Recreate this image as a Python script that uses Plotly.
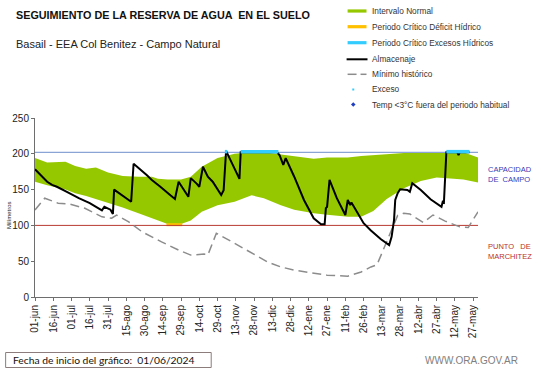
import plotly.graph_objects as go

# ---------------- data ----------------
tick_days = [0, 15, 30, 45, 60, 75, 90, 105, 120, 135, 150, 165, 180, 195,
             210, 225, 240, 255, 270, 285, 300, 315, 330, 345, 360]
tick_labels = ["01-jun", "16-jun", "01-jul", "16-jul", "31-jul", "15-ago", "30-ago",
               "14-sep", "29-sep", "14-oct", "29-oct", "13-nov", "28-nov", "13-dic",
               "28-dic", "12-ene", "27-ene", "11-feb", "26-feb", "13-mar", "28-mar",
               "12-abr", "27-abr", "12-may", "27-may"]

band_days = [0, 10, 25, 33, 42, 50, 60, 72, 85, 96, 101, 109, 120, 128, 137, 150, 164,
             178, 188, 202, 213, 229, 240, 257, 268, 278, 289, 303, 317, 330, 344, 352, 364]
band_upper = [194, 188, 189, 183, 179, 181, 174, 169, 168, 168, 165, 164, 164, 168, 182,
              194, 200, 202, 202, 199, 196, 193, 195, 195, 197, 198, 199, 201, 201, 202,
              202, 202, 195]
band_lower = [161, 156, 150, 145, 141, 137, 131, 125, 117, 110, 106, 102, 102, 107, 119,
              128, 133, 142, 138, 128, 122, 117, 115, 112, 112, 120, 137, 152, 162, 167,
              165, 164, 160]

deficit_days = [108, 121]
deficit_vals = [101, 101]

alm_days = [0, 4, 10, 14, 18, 25, 36, 45, 55, 57, 62, 64, 65, 79, 81, 92, 96, 103, 108,
            111, 115, 118, 126, 128, 133, 135, 138, 142, 146, 153, 155, 157, 168, 169,
            199, 201, 204, 206, 213, 221, 229, 235, 238, 239, 240, 242, 248, 255, 257,
            259, 260, 262, 270, 276, 284, 291, 293, 295, 296, 298, 300, 306, 308, 310,
            317, 325, 334, 335, 336, 338, 347, 348, 349, 357]
alm_vals = [178.5, 171, 161, 156.5, 154, 148, 138, 131, 121, 126, 122, 116, 150, 133, 186,
            170, 163.5, 154, 146, 142.5, 137, 161, 140, 166, 158, 154, 182, 168, 161,
            142.5, 149, 204, 165, 202, 202, 198, 184.5, 194, 168, 135.5, 110, 101.5,
            101.5, 124, 126, 163.5, 138, 114.5, 135.5, 128.5, 132, 126, 103, 93, 81,
            72.5, 84, 107.5, 135.5, 145, 150.5, 149.5, 147, 159, 149.5, 136.5, 126, 133,
            132, 202, 202, 198, 202, 202]

min_days = [0, 8, 19, 28, 41, 55, 63, 67, 77, 88, 104, 118, 128, 139, 142, 149, 164, 178,
            191, 202, 213, 240, 257, 268, 276, 281, 289, 298, 303, 308, 319, 327, 337,
            349, 356, 364]
min_vals = [121.5, 138, 131, 130, 124, 112, 110, 114.5, 105, 91, 77, 65.5, 58.5, 60, 58.5,
            89, 75, 61, 49, 42, 37.5, 30.5, 29, 35, 42, 45, 78, 114, 117, 116, 104, 114.5,
            106, 98, 97, 119]

exceso_days = [156, 158, None, 169, 200, None, 338, 357]
exceso_vals = [203, 203, None, 203, 203, None, 203, 203]

capacidad_campo = 202
punto_marchitez = 100
x_end = 364

# ---------------- layout helpers ----------------
W, H = 541, 368
ML, MR, MT, MB = 33, 63, 118, 71
PW, PH = W - ML - MR, H - MT - MB
FONT = "Liberation Sans, Arial, sans-serif"


def fx(p):
    return (p - ML) / PW


def fy(p):
    return (H - MB - p) / PH


GREEN = "#96C800"
ORANGE = "#FFC000"
CYAN = "#33CCFF"
BLUE_LINE = "#8AA4D6"
RED_LINE = "#B83A32"
GRAY = "#8C8C8C"

fig = go.Figure()

fig.add_trace(go.Scatter(x=band_days, y=band_lower, mode="lines",
                         line=dict(width=0, color=GREEN), hoverinfo="skip",
                         showlegend=False))
fig.add_trace(go.Scatter(x=band_days, y=band_upper, mode="lines", fill="tonexty",
                         fillcolor=GREEN, line=dict(width=0, color=GREEN),
                         name="Intervalo Normal", showlegend=False))
fig.add_trace(go.Scatter(x=deficit_days, y=deficit_vals, mode="lines",
                         line=dict(width=3, color=ORANGE),
                         name="Periodo Crítico Déficit Hídrico", showlegend=False))
fig.add_trace(go.Scatter(x=[0, x_end], y=[punto_marchitez, punto_marchitez], mode="lines",
                         line=dict(width=1, color=RED_LINE), showlegend=False))
fig.add_trace(go.Scatter(x=[0, x_end], y=[capacidad_campo, capacidad_campo], mode="lines",
                         line=dict(width=1.2, color=BLUE_LINE), showlegend=False))
fig.add_trace(go.Scatter(x=min_days, y=min_vals, mode="lines",
                         line=dict(width=1.5, color=GRAY, dash="9px,5px"),
                         name="Mínimo histórico", showlegend=False))
fig.add_trace(go.Scatter(x=alm_days, y=alm_vals, mode="lines",
                         line=dict(width=2, color="black"),
                         name="Almacenaje", showlegend=False))
fig.add_trace(go.Scatter(x=exceso_days, y=exceso_vals, mode="lines",
                         line=dict(width=3.5, color=CYAN), connectgaps=False,
                         name="Exceso", showlegend=False))

annotations = []
shapes = []

# title / subtitle
annotations.append(dict(x=fx(12), y=fy(15), xref="paper", yref="paper", xanchor="left",
                        yanchor="middle", showarrow=False,
                        text="<b>SEGUIMIENTO DE LA RESERVA DE AGUA  EN EL SUELO</b>",
                        font=dict(family=FONT, size=10.8, color="#111")))
annotations.append(dict(x=fx(12), y=fy(44.5), xref="paper", yref="paper", xanchor="left",
                        yanchor="middle", showarrow=False,
                        text="Basail - EEA Col Benitez - Campo Natural",
                        font=dict(family=FONT, size=11, color="#222")))

# manual legend
leg_x0, leg_x1, leg_tx = 347, 366, 369.5
leg_items = [("bar", GREEN, "Intervalo Normal", 11),
             ("bar", ORANGE, "Periodo Crítico Déficit Hídrico", 26.7),
             ("bar", CYAN, "Periodo Crítico Excesos Hídricos", 42.7),
             ("line", "black", "Almacenaje", 59.3),
             ("dash", GRAY, "Mínimo histórico", 74.3),
             ("dot", CYAN, "Exceso", 89.5),
             ("diamond", "#1F3FBF", "Temp <3°C fuera del periodo habitual", 104.5)]
for kind, col, label, yc in leg_items:
    if kind == "bar":
        shapes.append(dict(type="line", xref="paper", yref="paper", x0=fx(leg_x0),
                           x1=fx(leg_x1), y0=fy(yc), y1=fy(yc),
                           line=dict(color=col, width=3.2)))
    elif kind == "line":
        shapes.append(dict(type="line", xref="paper", yref="paper", x0=fx(346),
                           x1=fx(367), y0=fy(yc), y1=fy(yc),
                           line=dict(color=col, width=2)))
    elif kind == "dash":
        shapes.append(dict(type="line", xref="paper", yref="paper", x0=fx(347),
                           x1=fx(356), y0=fy(yc), y1=fy(yc),
                           line=dict(color=col, width=1.5)))
        shapes.append(dict(type="line", xref="paper", yref="paper", x0=fx(360),
                           x1=fx(366), y0=fy(yc), y1=fy(yc),
                           line=dict(color=col, width=1.5)))
    elif kind == "dot":
        shapes.append(dict(type="rect", xref="paper", yref="paper", x0=fx(351.7),
                           x1=fx(353.7), y0=fy(yc - 1), y1=fy(yc + 1),
                           line=dict(width=0), fillcolor=col))
    elif kind == "diamond":
        cx, cy = 352.7, yc
        path = "M {},{} L {},{} L {},{} L {},{} Z".format(
            fx(cx), fy(cy - 2.3), fx(cx + 2.3), fy(cy), fx(cx), fy(cy + 2.3),
            fx(cx - 2.3), fy(cy))
        shapes.append(dict(type="path", xref="paper", yref="paper", path=path,
                           line=dict(width=0), fillcolor=col))
    annotations.append(dict(x=fx(leg_tx), y=fy(yc), xref="paper", yref="paper",
                            xanchor="left", yanchor="middle", showarrow=False,
                            text=label, font=dict(family=FONT, size=8.3, color="#333")))

# right-side labels
annotations.append(dict(x=fx(486.5), y=fy(174.5), xref="paper", yref="paper",
                        xanchor="left", yanchor="middle", align="left", showarrow=False,
                        text="CAPACIDAD<br>DE  CAMPO",
                        font=dict(family=FONT, size=7.5, color="#3A3AB4")))
annotations.append(dict(x=fx(486.5), y=fy(251), xref="paper", yref="paper",
                        xanchor="left", yanchor="middle", align="left", showarrow=False,
                        text="PUNTO   DE<br>MARCHITEZ",
                        font=dict(family=FONT, size=7.5, color="#B8322C")))

# y-axis title
annotations.append(dict(x=fx(7), y=fy(215), xref="paper", yref="paper",
                        xanchor="center", yanchor="middle", showarrow=False,
                        textangle=-90, text="Milímetros",
                        font=dict(family=FONT, size=6, color="#222")))

# footer
shapes.append(dict(type="rect", xref="paper", yref="paper", x0=fx(3.5), x1=fx(210),
                   y0=fy(352.5), y1=fy(367.5), line=dict(color="#8C7C7C", width=1),
                   fillcolor="rgba(0,0,0,0)"))
annotations.append(dict(x=fx(8.5), y=fy(360), xref="paper", yref="paper",
                        xanchor="left", yanchor="middle", showarrow=False,
                        text="Fecha de inicio del gráfico:  01/06/2024",
                        font=dict(family="Lato, Carlito, sans-serif", size=10.3,
                                  color="#111")))
annotations.append(dict(x=fx(423), y=fy(360), xref="paper", yref="paper",
                        xanchor="left", yanchor="middle", showarrow=False,
                        text="WWW.ORA.GOV.AR",
                        font=dict(family=FONT, size=10, color="#808080")))

fig.update_layout(
    width=W, height=H,
    margin=dict(l=ML, r=MR, t=MT, b=MB, pad=0),
    paper_bgcolor="white", plot_bgcolor="white",
    showlegend=False,
    annotations=annotations, shapes=shapes,
    xaxis=dict(range=[0, x_end], tickmode="array", tickvals=tick_days,
               ticktext=tick_labels, tickangle=-90, showgrid=False, zeroline=False,
               showline=True, linecolor="#6E6E6E", linewidth=1, ticks="outside",
               ticklen=3, tickcolor="#6E6E6E",
               tickfont=dict(family=FONT, size=10, color="#222")),
    yaxis=dict(range=[0, 250], tickmode="array", tickvals=[0, 50, 100, 150, 200, 250],
               showgrid=False, zeroline=False, showline=True, linecolor="#6E6E6E",
               linewidth=1, ticks="outside", ticklen=3, tickcolor="#6E6E6E",
               tickfont=dict(family=FONT, size=10, color="#222")),
)

fig.write_html("out.html", config={"displayModeBar": False},
               post_script="document.body.style.margin='0';document.body.style.overflow='hidden';")
